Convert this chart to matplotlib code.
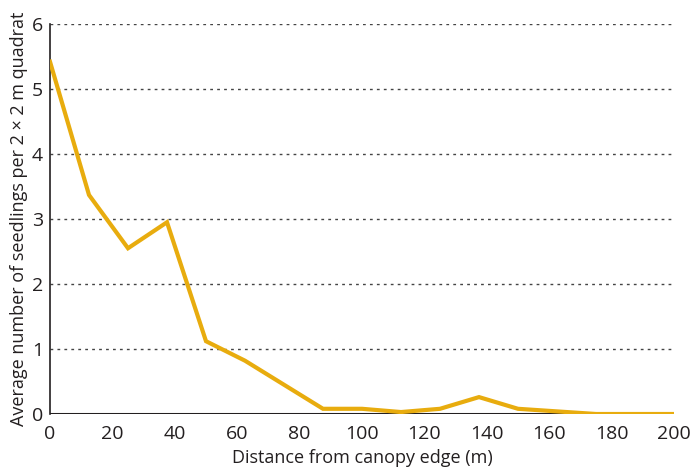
import matplotlib
matplotlib.use("Agg")
import matplotlib.pyplot as plt

distance = [0, 12.5, 25, 37.5, 50, 62.5, 75, 87.5, 100, 112.5, 125, 137.5, 150, 162.5, 175, 187.5, 200]
seedlings = [5.42, 3.37, 2.55, 2.95, 1.12, 0.82, 0.45, 0.08, 0.08, 0.03, 0.08, 0.26, 0.08, 0.04, 0.0, 0.0, 0.0]
xticks = [0, 20, 40, 60, 80, 100, 120, 140, 160, 180, 200]
yticks = [0, 1, 2, 3, 4, 5, 6]

plt.rcParams['font.family'] = ['Open Sans', 'DejaVu Sans']
txt = '#231f20'

fig = plt.figure(figsize=(6.92, 4.71), dpi=100)
ax = fig.add_axes([50/692, 57/471, 624/692, 390/471])

for y in yticks[1:]:
    ax.axhline(y, color='#444444', lw=1.0, ls=(0, (2, 3)), zorder=1)

ax.plot(distance, seedlings, color='#E8AC0E', lw=3, zorder=3, solid_joinstyle='miter')
ax.axhline(0, color='#231f20', lw=2.2, zorder=2)

ax.set_xlim(0, 200)
ax.set_ylim(0, 6)
ax.set_xticks(xticks)
ax.set_yticks(yticks)
ax.tick_params(axis='x', length=0, labelsize=14, colors=txt, pad=8)
ax.tick_params(axis='y', length=0, labelsize=14, colors=txt, pad=5)
for s in ['top', 'right', 'bottom']:
    ax.spines[s].set_visible(False)
ax.spines['left'].set_color(txt)
ax.spines['left'].set_linewidth(1.2)
ax.set_xlabel('Distance from canopy edge (m)', fontsize=13, color=txt, labelpad=4)
ax.set_ylabel('Average number of seedlings per 2 × 2 m quadrat', fontsize=13, color=txt, labelpad=3)

fig.savefig('out.png', dpi=100)
